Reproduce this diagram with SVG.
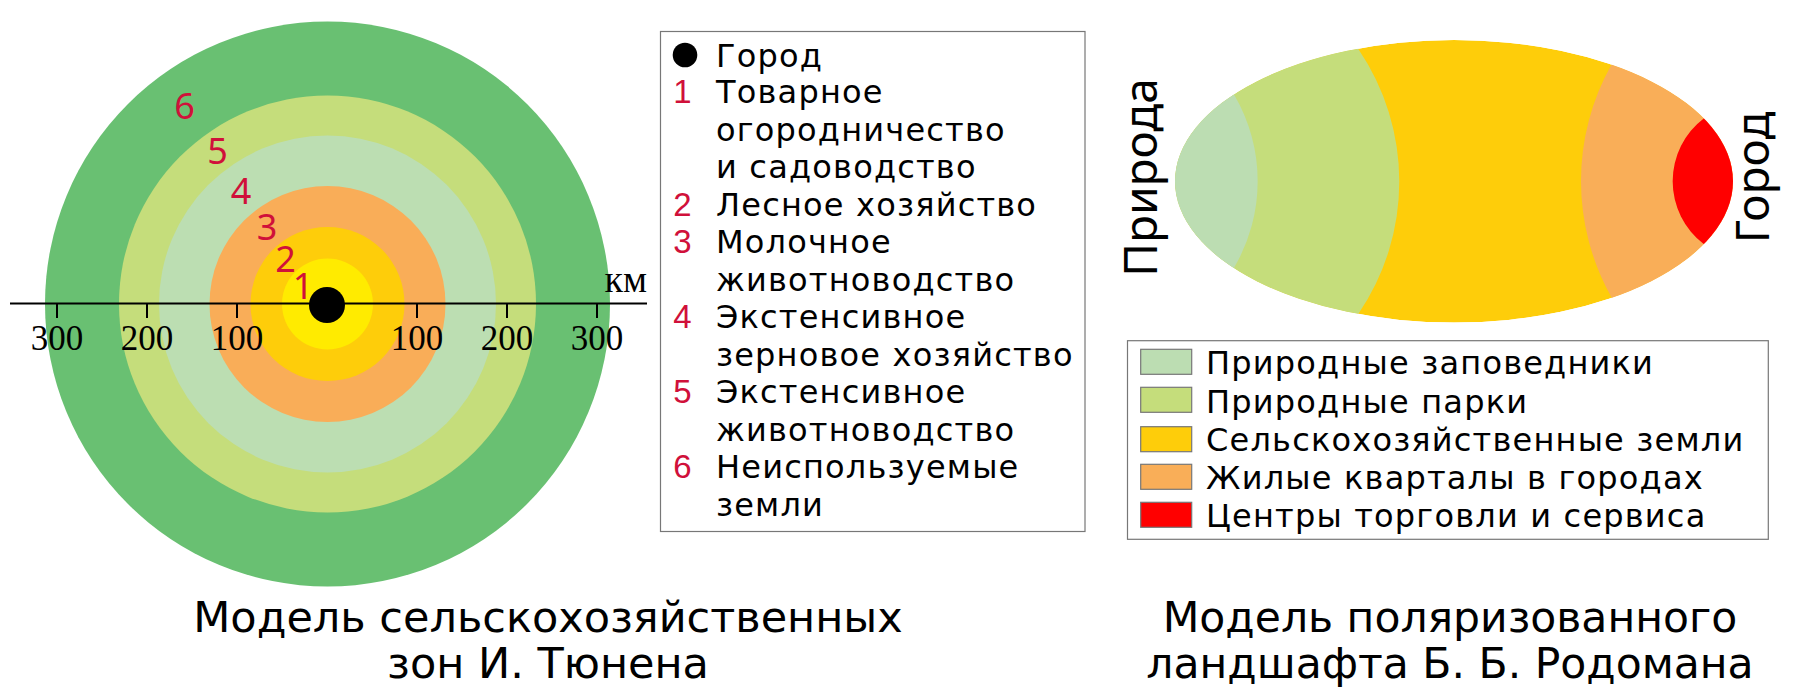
<svg xmlns="http://www.w3.org/2000/svg" width="1800" height="700" viewBox="0 0 1800 700">
<style>
.t{font-family:"DejaVu Sans","Noto Sans",sans-serif;fill:#000}
.lg{font-size:32px;letter-spacing:1.2px}
.rot{font-family:"Noto Sans","DejaVu Sans",sans-serif;font-size:46px;fill:#000;text-anchor:middle}
.num{font-family:"Noto Sans","DejaVu Sans",sans-serif;fill:#D0103A;text-anchor:middle}
.lnum{font-family:"Liberation Sans",Arial,sans-serif;font-size:33px;fill:#D0103A;text-anchor:middle}
.ax{font-family:"Liberation Serif","Times New Roman",serif;font-size:35px;fill:#000;text-anchor:middle}
.ttl{font-size:43px;text-anchor:middle}
.ttr{font-size:42.5px;text-anchor:middle}
.box{fill:#fff;stroke:#777;stroke-width:1.2}
.sw{stroke:#777;stroke-width:1.2}
</style>
<defs>
<clipPath id="ell"><ellipse cx="1454" cy="181.3" rx="279" ry="141.3"/></clipPath>
</defs>
<rect width="1800" height="700" fill="#fff"/>

<g id="thunen">
<circle cx="327.5" cy="304" r="282.5" fill="#69C072"/>
<circle cx="327.5" cy="304" r="208.5" fill="#C5DD7B"/>
<circle cx="327.5" cy="304" r="168.5" fill="#BCDEB2"/>
<circle cx="327.5" cy="304" r="118" fill="#F9AD58"/>
<circle cx="327.5" cy="304" r="77" fill="#FECD0A"/>
<circle cx="327.5" cy="304" r="45.5" fill="#FFEB00"/>
</g>
<g id="axis" stroke="#000" stroke-width="2">
<line x1="10" y1="303.5" x2="647" y2="303.5"/>
<line x1="57" y1="303.5" x2="57" y2="318"/>
<line x1="147" y1="303.5" x2="147" y2="318"/>
<line x1="237" y1="303.5" x2="237" y2="318"/>
<line x1="417" y1="303.5" x2="417" y2="318"/>
<line x1="507" y1="303.5" x2="507" y2="318"/>
<line x1="597" y1="303.5" x2="597" y2="318"/>
</g>
<g id="city"><circle cx="327" cy="305" r="18" fill="#000"/></g>
<g id="axis-labels">
<text class="ax" x="57" y="350">300</text>
<text class="ax" x="147" y="350">200</text>
<text class="ax" x="237" y="350">100</text>
<text class="ax" x="417" y="350">100</text>
<text class="ax" x="507" y="350">200</text>
<text class="ax" x="597" y="350">300</text>
<text class="ax" x="647" y="292" style="text-anchor:end;font-size:38px">км</text>
</g>
<g id="zone-numbers" font-size="36">
<text class="num" x="184.5" y="119">6</text>
<text class="num" x="217.5" y="164">5</text>
<text class="num" x="241" y="204">4</text>
<text class="num" x="267" y="240">3</text>
<text class="num" x="285.5" y="272">2</text>
<text class="num" x="303" y="298.5">1</text>
</g>

<g id="legend-thunen">
<rect class="box" x="660.5" y="31.5" width="424.5" height="500"/>
<circle cx="685" cy="55" r="12.3" fill="#000"/>
<g>
<text class="lnum" x="682.5" y="103.3">1</text>
<text class="lnum" x="682.5" y="215.7">2</text>
<text class="lnum" x="682.5" y="253.3">3</text>
<text class="lnum" x="682.5" y="328.3">4</text>
<text class="lnum" x="682.5" y="403.3">5</text>
<text class="lnum" x="682.5" y="478.3">6</text>
</g>
<g class="t lg">
<text x="716" y="66.7">Город</text>
<text x="716" y="103.3">Товарное</text>
<text x="716" y="140.8">огородничество</text>
<text x="716" y="178.3">и садоводство</text>
<text x="716" y="215.7">Лесное хозяйство</text>
<text x="716" y="253.3">Молочное</text>
<text x="716" y="290.7">животноводство</text>
<text x="716" y="328.3">Экстенсивное</text>
<text x="716" y="365.7">зерновое хозяйство</text>
<text x="716" y="403.3">Экстенсивное</text>
<text x="716" y="440.7">животноводство</text>
<text x="716" y="478.3">Неиспользуемые</text>
<text x="716" y="515.7">земли</text>
</g>
</g>

<g id="rodoman">
<g clip-path="url(#ell)">
<ellipse cx="1454" cy="181.3" rx="279" ry="141.3" fill="#FECD0A"/>
<path d="M1358.3,49 A234.6,234.6 0 0 1 1358.3,314 L1358.3,340 L1150,340 L1150,20 L1358.3,20 Z" fill="#C5DD7B"/>
<path d="M1234.3,95 A170.5,170.5 0 0 1 1234.3,267.3 L1234.3,340 L1150,340 L1150,20 L1234.3,20 Z" fill="#BCDDB2"/>
<path d="M1611.7,64.3 A237,237 0 0 0 1611.7,297.7 L1611.7,340 L1760,340 L1760,20 L1611.7,20 Z" fill="#F9AE58"/>
<path d="M1704,118.3 A79,79 0 0 0 1704,244.3 L1704,340 L1760,340 L1760,20 L1704,20 Z" fill="#FF0000"/>
</g>
<text class="rot" transform="translate(1156.7,177.5) rotate(-90)">Природа</text>
<text class="rot" transform="translate(1769,177.5) rotate(-90)">Город</text>
</g>

<g id="legend-rodoman">
<rect class="box" x="1127.5" y="340.7" width="640.8" height="198.6"/>
<rect class="sw" x="1140.7" y="349.3" width="51" height="25" fill="#BCDDB2"/>
<rect class="sw" x="1140.7" y="387.3" width="51" height="25" fill="#C5DD7B"/>
<rect class="sw" x="1140.7" y="426.7" width="51" height="25" fill="#FECD0A"/>
<rect class="sw" x="1140.7" y="464.3" width="51" height="25" fill="#F9AE58"/>
<rect class="sw" x="1140.7" y="502.3" width="51" height="25" fill="#FF0000"/>
<g class="t lg">
<text x="1206" y="374.3">Природные заповедники</text>
<text x="1206" y="412.5">Природные парки</text>
<text x="1206" y="450.7">Сельскохозяйственные земли</text>
<text x="1206" y="488.9">Жилые кварталы в городах</text>
<text x="1206" y="527.1">Центры торговли и сервиса</text>
</g>
</g>

<g id="titles" class="t">
<text class="ttl" x="548" y="631.7">Модель сельскохозяйственных</text>
<text class="ttl" x="548" y="678.3">зон И. Тюнена</text>
<text class="ttr" x="1450" y="631.7">Модель поляризованного</text>
<text class="ttr" x="1450" y="678.3">ландшафта Б. Б. Родомана</text>
</g>
</svg>
